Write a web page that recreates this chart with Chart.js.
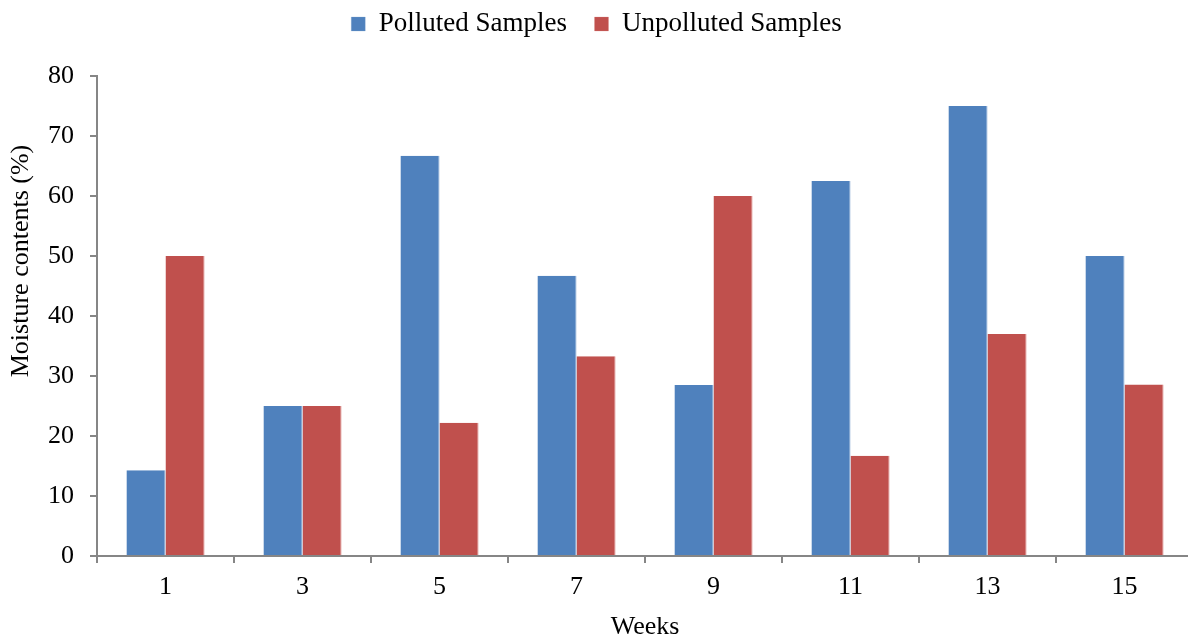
<!DOCTYPE html>
<html>
<head>
<meta charset="utf-8">
<script src="https://cdn.jsdelivr.net/npm/chart.js@4/dist/chart.umd.min.js"></script>
<style>
html,body{margin:0;padding:0;background:#fff;overflow:hidden;}
#wrap{width:1200px;height:639px;}
</style>
</head>
<body>
<div id="wrap"><canvas id="c" width="1200" height="639"></canvas></div>
<script>
const weeks = ['1','3','5','7','9','11','13','15'];
const polluted = [14.3, 25, 66.7, 46.7, 28.5, 62.5, 75, 50];
const unpolluted = [50, 25, 22.2, 33.3, 60, 16.7, 37, 28.6];
const yTicks = [0,10,20,30,40,50,60,70,80];
const yTitle = 'Moisture contents (%)';
const xTitle = 'Weeks';

const FONT = 'Liberation Serif, Times New Roman, serif';
const FS = 26;
const AXIS = '#868686';

const legendTweak = {
  id: 'legendTweak',
  beforeInit(chart) {
    const lg = chart.legend;
    if (lg) {
      const orig = lg.fit;
      lg.fit = function() { orig.call(this); this.height = 76; };
    }
  },
  afterLayout(chart) {
    const lg = chart.legend;
    if (lg) { lg.top = -17; lg.bottom = lg.top + 76; }
  }
};

const yTitlePlugin = {
  id: 'yTitlePlugin',
  afterDraw(chart) {
    const ctx = chart.ctx;
    ctx.save();
    ctx.translate(21, 261);
    ctx.rotate(-Math.PI / 2);
    ctx.fillStyle = '#000';
    ctx.font = FS + 'px ' + FONT;
    ctx.textAlign = 'center';
    ctx.textBaseline = 'middle';
    ctx.fillText(yTitle, 0, 0);
    ctx.restore();
  }
};

new Chart(document.getElementById('c'), {
  type: 'bar',
  data: {
    labels: weeks,
    datasets: [
      {label: 'Polluted Samples', data: polluted, backgroundColor: '#4F81BD', borderColor: '#7FA3D0', borderWidth: {left:0,right:1,top:0,bottom:0}, categoryPercentage: 0.57, barPercentage: 1.0},
      {label: 'Unpolluted Samples', data: unpolluted, backgroundColor: '#C0504D', borderColor: '#D98583', borderWidth: {left:0,right:1,top:0,bottom:0}, categoryPercentage: 0.57, barPercentage: 1.0}
    ]
  },
  options: {
    responsive: false,
    animation: false,
    devicePixelRatio: 1,
    layout: {padding: {left: 0, right: 7, top: 0, bottom: 0}},
    plugins: {
      legend: {
        position: 'top',
        labels: {
          boxWidth: 14, boxHeight: 14, padding: 27.5,
          color: '#000',
          font: {family: FONT, size: 27}
        }
      },
      tooltip: {enabled: false}
    },
    scales: {
      x: {
        grid: {display: true, drawOnChartArea: false, drawTicks: true, tickLength: 7, color: AXIS, lineWidth: 2, offset: true},
        border: {display: true, color: AXIS, width: 2},
        ticks: {color: '#000', font: {family: FONT, size: FS}, padding: 9},
        title: {display: true, text: xTitle, color: '#000', font: {family: FONT, size: FS}, padding: {top: 0, bottom: -4}},
        afterFit(s) { s.height = 83; }
      },
      y: {
        min: 0, max: 80,
        afterBuildTicks(s) { s.ticks = yTicks.map(v => ({value: v})); },
        grid: {display: true, drawOnChartArea: false, drawTicks: true, tickLength: 7, color: AXIS, lineWidth: 2},
        border: {display: true, color: AXIS, width: 2},
        ticks: {color: '#000', font: {family: FONT, size: FS}, padding: 16},
        title: {display: false},
        afterFit(s) { s.width = 97; }
      }
    }
  },
  plugins: [legendTweak, yTitlePlugin]
});
</script>
</body>
</html>
